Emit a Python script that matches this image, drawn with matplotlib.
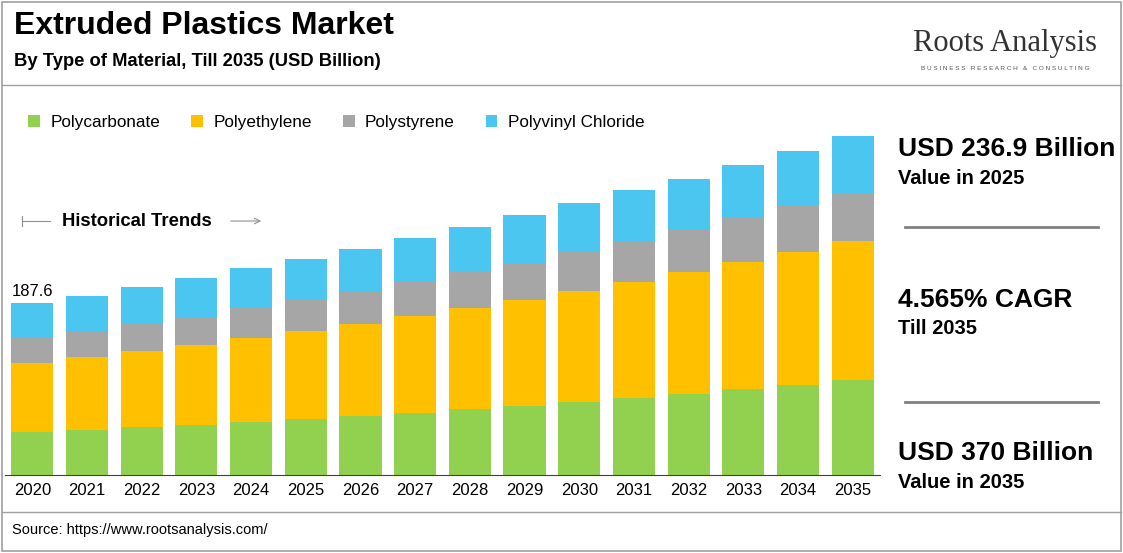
import matplotlib.pyplot as plt
from matplotlib.patches import Rectangle
from matplotlib.lines import Line2D

years = ['2020','2021','2022','2023','2024','2025','2026','2027','2028','2029','2030','2031','2032','2033','2034','2035']
polycarbonate = [46.9,49.1,52.4,54.5,57.8,61.1,64.4,67.6,72.0,75.3,79.6,84.0,88.3,93.8,98.2,103.6]
polyethylene = [75.3,79.6,82.9,87.3,91.6,96.0,100.3,105.8,110.2,115.6,121.1,126.5,133.1,138.5,145.1,151.6]
polystyrene = [28.4,28.4,30.5,30.5,32.7,34.9,36.0,37.1,39.3,40.4,42.5,44.7,45.8,48.0,50.2,52.4]
pvc = [37.1,38.2,39.3,42.5,43.6,43.6,45.8,48.0,49.1,52.4,53.4,55.6,55.6,57.8,60.0,62.2]
series = [('Polycarbonate', polycarbonate, '#92D050'), ('Polyethylene', polyethylene, '#FFC000'),
          ('Polystyrene', polystyrene, '#A6A6A6'), ('Polyvinyl Chloride', pvc, '#4BC6F0')]

W, H = 1123, 553
fig = plt.figure(figsize=(W/100, H/100), dpi=100)
plt.rcParams['font.family'] = ['Liberation Sans', 'DejaVu Sans']

def fx(x): return x / W
def fy(y): return 1 - y / H

fig.patches.append(Rectangle((fx(2), fy(551)), fx(1119), 549/H, transform=fig.transFigure,
                             fill=False, ec='#A0A0A0', lw=1.2))
for yy in (85, 512):
    fig.lines.append(Line2D([fx(2), fx(1121)], [fy(yy), fy(yy)], transform=fig.transFigure, color='#A0A0A0', lw=1))

fig.text(fx(14), fy(26), 'Extruded Plastics Market', fontsize=23, fontweight='bold', va='center')
fig.text(fx(14), fy(61), 'By Type of Material, Till 2035 (USD Billion)', fontsize=13.2, fontweight='bold', va='center')
fig.text(fx(1005), fy(43), 'Roots Analysis', fontsize=22, family=['Liberation Serif'], ha='center', va='center', color='#333333')
fig.text(fx(1005), fy(68), 'B U S I N E S S   R E S E A R C H   &   C O N S U L T I N G', fontsize=4.6, ha='center', va='center', color='#555555')
fig.text(fx(12), fy(530), 'Source: https://www.rootsanalysis.com/', fontsize=10.5, va='center')

ax = fig.add_axes([fx(5), fy(475), fx(875), 375/H])
x = range(len(years))
bottom = [0]*len(years)
for name, vals, col in series:
    ax.bar(x, vals, 0.77, bottom=bottom, color=col, label=name)
    bottom = [b+v for b, v in zip(bottom, vals)]
ax.set_xlim(-0.5, 15.5)
ax.set_ylim(0, 409)
ax.set_xticks(list(x), years, fontsize=12)
ax.tick_params(length=0, pad=6)
ax.set_yticks([])
for s in ['left', 'right', 'top']:
    ax.spines[s].set_visible(False)
ax.spines['bottom'].set_color('#404040')
ax.text(0, bottom[0] + 4, '187.6', ha='center', va='bottom', fontsize=12)
ax.legend(loc='upper left', bbox_to_anchor=(fx(8) / (875/W), 1.0), ncol=4, frameon=False,
          fontsize=12.3, handlelength=0.7, handleheight=0.7, columnspacing=1.8, handletextpad=0.6,
          bbox_transform=ax.transAxes)

fig.text(fx(62), fy(221), 'Historical Trends', fontsize=13.3, fontweight='bold', va='center')
fig.lines.append(Line2D([fx(22), fx(50)], [fy(221), fy(221)], transform=fig.transFigure, color='#909090', lw=0.8))
fig.lines.append(Line2D([fx(22), fx(22)], [fy(216), fy(226)], transform=fig.transFigure, color='#909090', lw=0.8))
ax2 = fig.add_axes([0, 0, 1, 1], facecolor='none'); ax2.axis('off'); ax2.set_xlim(0, W); ax2.set_ylim(H, 0)
ax2.annotate('', xy=(264, 221), xytext=(228, 221), arrowprops=dict(arrowstyle='->', color='#909090', lw=0.8))

fig.text(fx(898), fy(149), 'USD 236.9 Billion', fontsize=19, fontweight='bold', va='center')
fig.text(fx(898), fy(178), 'Value in 2025', fontsize=14.5, fontweight='bold', va='center')
fig.text(fx(898), fy(300), '4.565% CAGR', fontsize=19, fontweight='bold', va='center')
fig.text(fx(898), fy(329), 'Till 2035', fontsize=14.5, fontweight='bold', va='center')
fig.text(fx(898), fy(453), 'USD 370 Billion', fontsize=19, fontweight='bold', va='center')
fig.text(fx(898), fy(482), 'Value in 2035', fontsize=14.5, fontweight='bold', va='center')
for yy in (227, 402):
    fig.lines.append(Line2D([fx(905), fx(1098)], [fy(yy), fy(yy)], transform=fig.transFigure, color='#808080', lw=2))

fig.savefig('out.png', dpi=100)
